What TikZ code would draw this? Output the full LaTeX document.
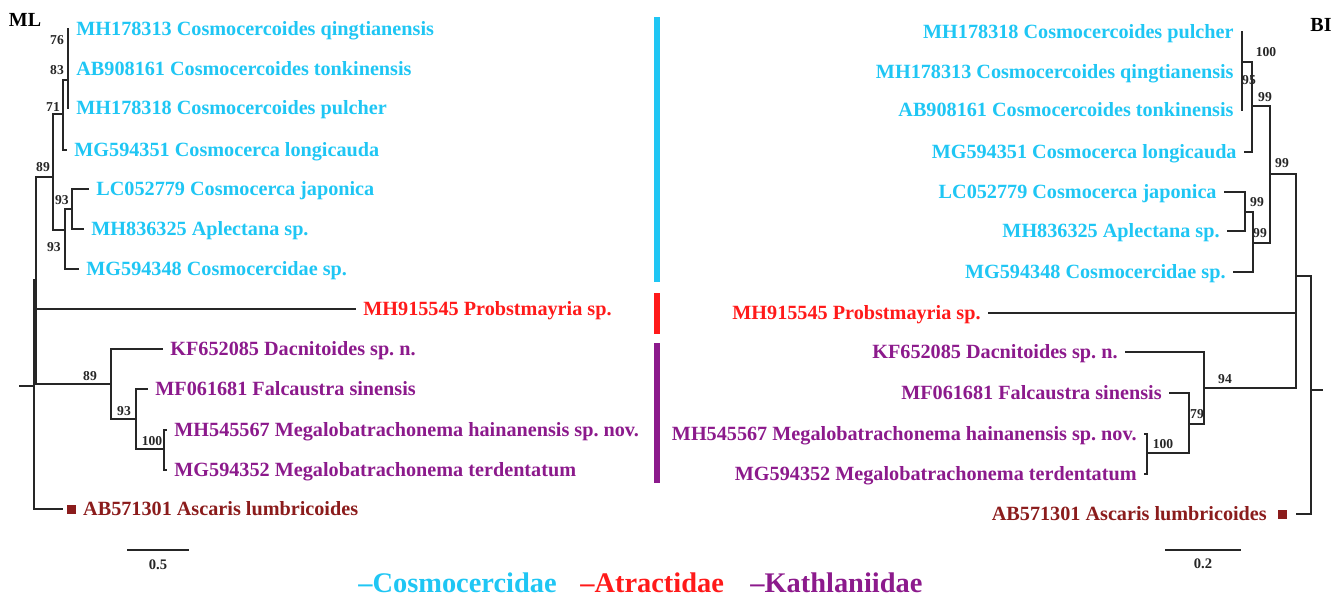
\documentclass[tikz,border=0pt]{standalone}
\usepackage{fontspec}
\setmainfont{Liberation Serif}
\frenchspacing
\usetikzlibrary{positioning}
\definecolor{cosmo}{HTML}{1FC6F4}
\definecolor{atrac}{HTML}{FF1A1A}
\definecolor{kath}{HTML}{8C1A8C}
\definecolor{ascar}{HTML}{8B1C1C}
\tikzset{
  branch/.style={line width=0.9pt,black!85},
  leaf/.style={font=\bfseries\fontsize{10.1}{12}\selectfont,inner sep=0pt,text height=8.6pt,text depth=2pt},
  bootlab/.style={font=\bfseries\fontsize{6.8}{8}\selectfont,inner sep=0pt,black!85},
  treelab/.style={font=\bfseries\fontsize{10}{12}\selectfont,inner sep=0pt},
  famlab/.style={font=\bfseries\fontsize{14.2}{16}\selectfont,inner sep=0pt,anchor=west},
  famline/.style={line width=2.6pt},
  sqmark/.style={fill=ascar,minimum size=4.5pt,inner sep=0pt},
}

\begin{document}
\begin{tikzpicture}[x=0.5pt,y=-0.5pt,line cap=rect]
  \useasboundingbox (0,0) rectangle (1341,596);

  % ML tree
  \node[treelab] (ml) at (25,20) {ML};
  \coordinate (L1) at (68,29);
  \coordinate (L2) at (68,69);
  \coordinate (L3) at (68,108);
  \coordinate (L4) at (66,150);
  \coordinate (L5) at (88,189);
  \coordinate (L6) at (83,229);
  \coordinate (L7) at (78,269);
  \coordinate (L8) at (355,309);
  \coordinate (L9) at (162,349);
  \coordinate (L10) at (147,389);
  \coordinate (L11) at (166,430);
  \coordinate (L12) at (166,470);
  \coordinate (L13) at (62,509);
  \coordinate (tA) at (68,80);
  \coordinate (n71) at (63,114);
  \coordinate (n89) at (53,177);
  \coordinate (n93b) at (65,230);
  \coordinate (n93a) at (72,209);
  \coordinate (nIn) at (36,280);
  \coordinate (nK89) at (111,384);
  \coordinate (nK93) at (136,419);
  \coordinate (nK100) at (164,449);
  \coordinate (nRoot) at (34,386);
  \coordinate (nStub) at (20,386);
  \foreach \a/\b in {tA/L1,tA/L2,tA/L3,n71/tA,n71/L4,n89/n71,n89/n93b,n93b/n93a,
                     n93a/L5,n93a/L6,n93b/L7,nIn/n89,nIn/L8,nIn/nK89,nK89/L9,nK89/nK93,
                     nK93/L10,nK93/nK100,nK100/L11,nK100/L12,nRoot/nIn,nRoot/L13}
    \draw[branch] (\a) |- (\b);
  \draw[branch] (nStub) -- (nRoot);
  \foreach \t/\c/\s in {L1/cosmo/MH178313 Cosmocercoides qingtianensis,
                        L2/cosmo/AB908161 Cosmocercoides tonkinensis,
                        L3/cosmo/MH178318 Cosmocercoides pulcher,
                        L4/cosmo/MG594351 Cosmocerca longicauda,
                        L5/cosmo/LC052779 Cosmocerca japonica,
                        L6/cosmo/MH836325 Aplectana sp.,
                        L7/cosmo/MG594348 Cosmocercidae sp.,
                        L8/atrac/MH915545 Probstmayria sp.,
                        L9/kath/KF652085 Dacnitoides sp. n.,
                        L10/kath/MF061681 Falcaustra sinensis,
                        L11/kath/MH545567 Megalobatrachonema hainanensis sp. nov.,
                        L12/kath/MG594352 Megalobatrachonema terdentatum}
    \node[leaf,text=\c,right=4pt of \t] (\t t) {\s};
  \node[sqmark,right=2.5pt of L13] (sqL) {};
  \node[leaf,text=ascar,right=3pt of sqL] (L13t) {AB571301 Ascaris lumbricoides};
  \foreach \v/\x/\y in {76/57/40,83/57/70,71/53/107,89/43/167,93/62/200,93/54/247,
                        89/90/376,93/124/411,100/152/441}
    \node[bootlab] at (\x,\y) {\v};
  \coordinate (sbL1) at (128,550);
  \coordinate (sbL2) at (188,550);
  \draw[branch] (sbL1) -- (sbL2);
  \node[bootlab,font=\bfseries\fontsize{7.3}{9}\selectfont] (sbLt) at (158,565) {0.5};

  % family bars
  \draw[famline,cosmo] (657,20) -- (657,279);
  \draw[famline,atrac] (657,296) -- (657,331);
  \draw[famline,kath] (657,346) -- (657,480);

  % BI tree
  \node[treelab] (bi) at (1321,25) {BI};
  \coordinate (R1) at (1242,32);
  \coordinate (R2) at (1242,72);
  \coordinate (R3) at (1242,110);
  \coordinate (R4) at (1245,152);
  \coordinate (R5) at (1225,192);
  \coordinate (R6) at (1228,231);
  \coordinate (R7) at (1234,272);
  \coordinate (R8) at (989,313);
  \coordinate (R9) at (1126,352);
  \coordinate (R10) at (1170,393);
  \coordinate (R11) at (1145,434);
  \coordinate (R12) at (1145,474);
  \coordinate (R13) at (1297,514);
  \coordinate (rA) at (1242,62);
  \coordinate (r99a) at (1252,106);
  \coordinate (rCos) at (1270,174);
  \coordinate (r99d) at (1253,243);
  \coordinate (r99c) at (1245,212);
  \coordinate (rIn) at (1296,276);
  \coordinate (rK94) at (1204,388);
  \coordinate (rK79) at (1189,424);
  \coordinate (rK100) at (1147,453);
  \coordinate (rRoot) at (1311,390);
  \coordinate (rStub) at (1322,390);
  \foreach \a/\b in {rA/R1,rA/R2,rA/R3,r99a/rA,r99a/R4,rCos/r99a,rCos/r99d,r99d/r99c,
                     r99c/R5,r99c/R6,r99d/R7,rIn/rCos,rIn/R8,rIn/rK94,rK94/R9,rK94/rK79,
                     rK79/R10,rK79/rK100,rK100/R11,rK100/R12,rRoot/rIn,rRoot/R13}
    \draw[branch] (\a) |- (\b);
  \draw[branch] (rStub) -- (rRoot);
  \foreach \t/\c/\s in {R1/cosmo/MH178318 Cosmocercoides pulcher,
                        R2/cosmo/MH178313 Cosmocercoides qingtianensis,
                        R3/cosmo/AB908161 Cosmocercoides tonkinensis,
                        R4/cosmo/MG594351 Cosmocerca longicauda,
                        R5/cosmo/LC052779 Cosmocerca japonica,
                        R6/cosmo/MH836325 Aplectana sp.,
                        R7/cosmo/MG594348 Cosmocercidae sp.,
                        R8/atrac/MH915545 Probstmayria sp.,
                        R9/kath/KF652085 Dacnitoides sp. n.,
                        R10/kath/MF061681 Falcaustra sinensis,
                        R11/kath/MH545567 Megalobatrachonema hainanensis sp. nov.,
                        R12/kath/MG594352 Megalobatrachonema terdentatum}
    \node[leaf,text=\c,left=4pt of \t] (\t t) {\s};
  \node[sqmark,left=5pt of R13] (sqR) {};
  \node[leaf,text=ascar,left=5pt of sqR] (R13t) {AB571301 Ascaris lumbricoides};
  \foreach \v/\x/\y in {100/1266/52,95/1249/80,99/1265/97,99/1282/163,99/1257/202,
                        99/1260/233,94/1225/379,79/1197/414,100/1163/444}
    \node[bootlab] at (\x,\y) {\v};
  \coordinate (sbR1) at (1166,550);
  \coordinate (sbR2) at (1240,550);
  \draw[branch] (sbR1) -- (sbR2);
  \node[bootlab,font=\bfseries\fontsize{7.3}{9}\selectfont] (sbRt) at (1203,564) {0.2};

  % legend
  \node[famlab,text=cosmo] (lgC) at (358,583) {–Cosmocercidae};
  \node[famlab,text=atrac] (lgA) at (580,583) {–Atractidae};
  \node[famlab,text=kath] (lgK) at (750,583) {–Kathlaniidae};
\end{tikzpicture}
\end{document}
